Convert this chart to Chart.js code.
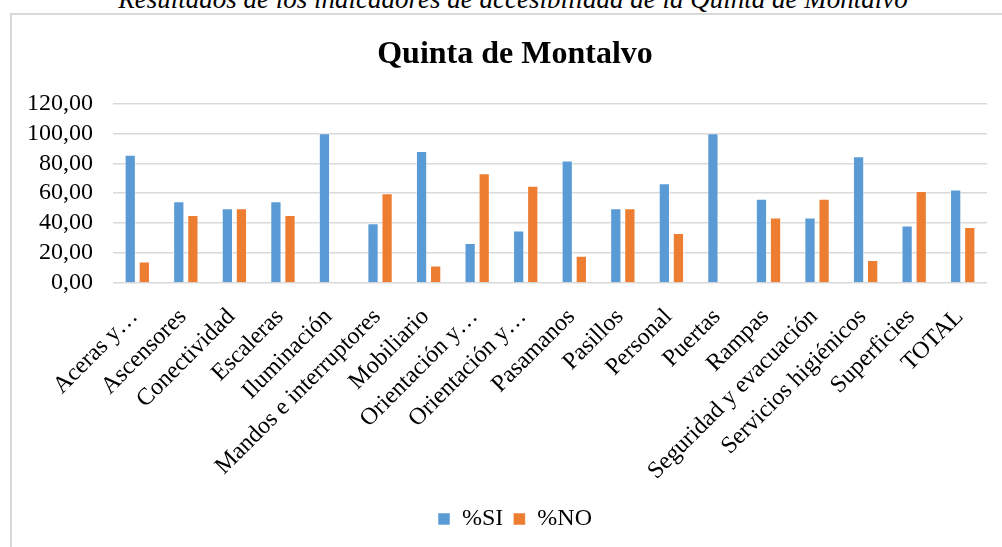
<!DOCTYPE html>
<html>
<head>
<meta charset="utf-8">
<script src="https://cdn.jsdelivr.net/npm/chart.js@4.4.1/dist/chart.umd.min.js"></script>
<style>
  html, body { margin: 0; padding: 0; background: #fff; overflow: hidden; }
  #caption {
    position: absolute; left: 0; width: 1026px; top: -14px;
    text-align: center; font: italic 27px "Liberation Serif", "Times New Roman", serif;
    line-height: 27px; color: #000; white-space: nowrap;
  }
  #frame {
    position: absolute; left: 10px; top: 13px; width: 1010px; height: 560px;
    border: 2px solid #d9d9d9; box-sizing: border-box;
  }
  #wrap { position: absolute; left: 0; top: 0; width: 1030px; height: 547px; }
</style>
</head>
<body>
<div id="caption">Resultados de los indicadores de accesibilidad de la Quinta de Montalvo</div>
<div id="frame"></div>
<div id="wrap"><canvas id="chart" width="1030" height="547"></canvas></div>
<script>
const categories = [
  "Aceras y…", "Ascensores", "Conectividad", "Escaleras", "Iluminación",
  "Mandos e interruptores", "Mobiliario", "Orientación y…", "Orientación y…",
  "Pasamanos", "Pasillos", "Personal", "Puertas", "Rampas",
  "Seguridad y evacuación", "Servicios higiénicos", "Superficies", "TOTAL",
];
const siValues = [85.71, 54.55, 50.0, 54.55, 100.0, 40.0, 88.24, 26.67, 35.0, 81.82, 50.0, 66.67, 100.0, 56.25, 43.75, 84.62, 38.46, 62.5];
const noValues = [14.29, 45.45, 50.0, 45.45, 0.0, 60.0, 11.76, 73.33, 65.0, 18.18, 50.0, 33.33, 0.0, 43.75, 56.25, 15.38, 61.54, 37.5];
const yTickLabels = ["0,00", "20,00", "40,00", "60,00", "80,00", "100,00", "120,00"];

const SERIF = '"Liberation Serif", "Times New Roman", serif';
Chart.defaults.font.family = SERIF;
Chart.defaults.color = "#000";

new Chart(document.getElementById("chart"), {
  type: "bar",
  data: {
    labels: categories,
    datasets: [
      { label: "%SI", data: siValues, backgroundColor: "#5b9bd5", borderColor: "rgba(255,255,255,0.5)", borderWidth: 1, categoryPercentage: 0.58, barPercentage: 0.8 },
      { label: "%NO", data: noValues, backgroundColor: "#ed7d31", borderColor: "rgba(255,255,255,0.5)", borderWidth: 1, categoryPercentage: 0.58, barPercentage: 0.8 },
    ],
  },
  options: {
    responsive: false,
    animation: false,
    layout: { padding: { left: 0, right: 0, top: 0, bottom: 6 } },
    plugins: {
      title: {
        display: true,
        text: "Quinta de Montalvo",
        font: { family: SERIF, size: 32, weight: "bold" },
        padding: { top: 36, bottom: 29 },
      },
      legend: {
        position: "bottom",
        labels: {
          font: { family: SERIF, size: 24 },
          boxWidth: 12,
          boxHeight: 12,
          padding: 10,
        },
      },
      tooltip: { enabled: false },
    },
    scales: {
      x: {
        grid: { display: false, drawTicks: false },
        border: { display: false },
        ticks: {
          font: { family: SERIF, size: 24 },
          maxRotation: 45,
          minRotation: 45,
          autoSkip: false,
          padding: 20,
          labelOffset: -3,
        },
        afterFit: (scale) => { scale.height = 214; },
      },
      y: {
        min: 0,
        max: 120,
        grid: { color: "#d9d9d9", lineWidth: 1.5, drawTicks: false },
        border: { display: false },
        ticks: {
          stepSize: 20,
          autoSkip: false,
          font: { family: SERIF, size: 24 },
          padding: 20,
          callback: (value) => yTickLabels[Math.round(value / 20)],
        },
        afterFit: (scale) => { scale.width = 113; },
      },
      // empty right-hand spacer so the title and legend centre like the original
      spacer: {
        position: "right",
        grid: { display: false },
        border: { display: false },
        ticks: { display: false },
        afterFit: (scale) => { scale.width = 43; },
      },
    },
  },
});
</script>
</body>
</html>
